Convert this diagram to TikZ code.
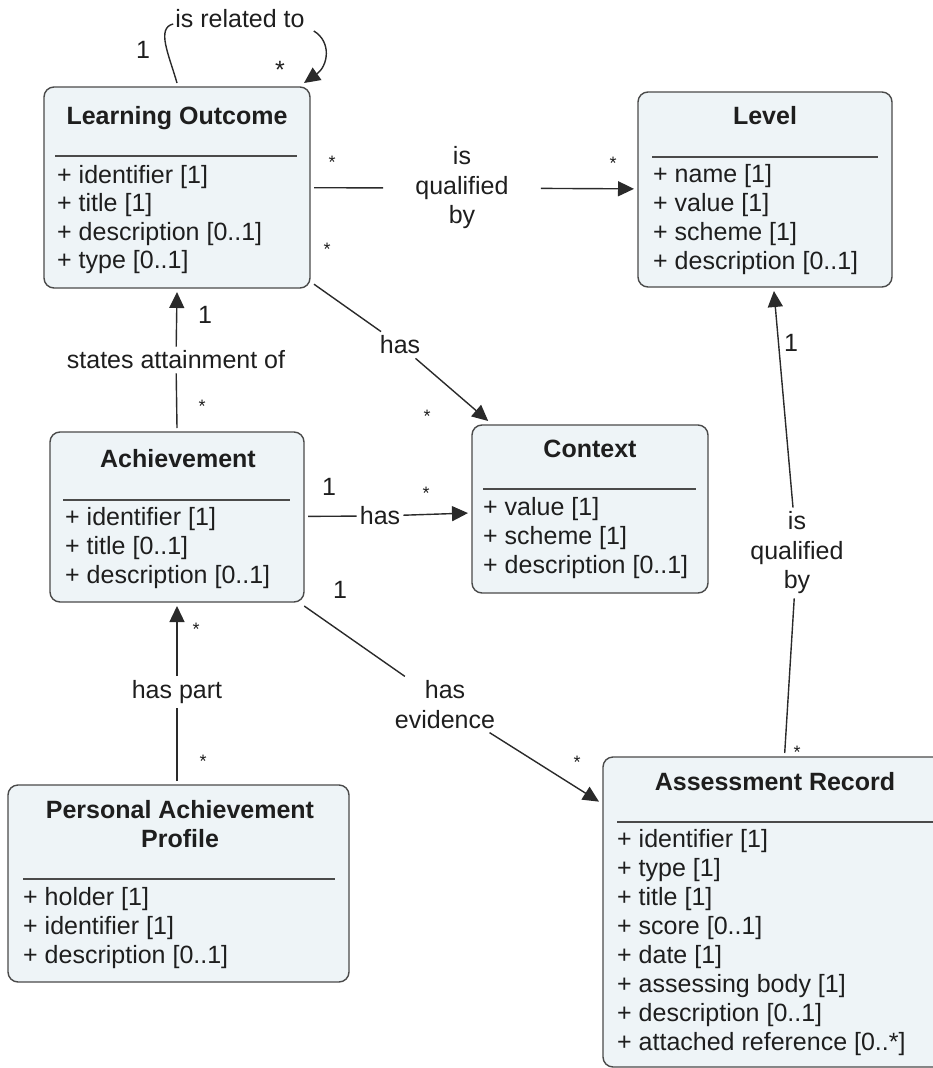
\documentclass[tikz,border=0pt]{standalone}
\usepackage{fontspec}
\setmainfont{Liberation Sans}
\usetikzlibrary{arrows.meta}
\definecolor{boxfill}{HTML}{EEF4F7}
\definecolor{boxline}{HTML}{4A4A4A}
\definecolor{ink}{HTML}{1E1E1E}
\definecolor{wire}{HTML}{2A2A2A}

\begin{document}
\begin{tikzpicture}[x=1pt,y=-1pt,
  umlbox/.style={draw=boxline, fill=boxfill, line width=1.4pt, rounded corners=10pt,
    inner sep=0pt, outer sep=4pt},
  boxtitle/.style={font=\fontsize{25}{28.5}\selectfont\bfseries, text=ink, inner sep=0pt,
    text height=18pt, text depth=6pt},
  boxtitletwo/.style={font=\fontsize{25}{28.5}\selectfont\bfseries, text=ink, inner sep=0pt,
    align=center},
  attr/.style={font=\fontsize{25}{29}\selectfont, text=ink, anchor=west, inner sep=0pt,
    text height=18pt, text depth=6pt},
  divider/.style={draw=boxline, line width=1.3pt},
  conn/.style={draw=wire, line width=1.4pt},
  arr/.style={conn, -{Triangle[length=16pt,width=15pt]}},
  lbl/.style={font=\fontsize{25}{29.5}\selectfont, text=ink, inner sep=4pt, align=center},
  mult/.style={font=\fontsize{25}{29}\selectfont, text=ink, inner sep=1pt},
  star/.style={font=\fontsize{18}{20}\selectfont, text=ink, inner sep=1pt}
]
\useasboundingbox (0,0) rectangle (933,1068);
\clip (0,0) rectangle (933,1068);

% ---------- classes ----------
% Learning Outcome
\node[umlbox, minimum width=266pt, minimum height=201pt] (LO) at (177,187.5) {};
\node[boxtitle] (LOt) at (177,118) {Learning Outcome};
\draw[divider] (55,156) -- (297,156);
\node[attr] (LOa1) at (57,177) {+ identifier [1]};
\node[attr] (LOa2) at (57,205.5) {+ title [1]};
\node[attr] (LOa3) at (57,234) {+ description [0..1]};
\node[attr] (LOa4) at (57,262.5) {+ type [0..1]};

% Level
\node[umlbox, minimum width=254pt, minimum height=195pt] (Lv) at (765,189.5) {};
\node[boxtitle] (Lvt) at (765,118) {Level};
\draw[divider] (652,157) -- (878,157);
\node[attr] (Lva1) at (653,176) {+ name [1]};
\node[attr] (Lva2) at (653,205) {+ value [1]};
\node[attr] (Lva3) at (653,234) {+ scheme [1]};
\node[attr] (Lva4) at (653,263) {+ description [0..1]};

% Context
\node[umlbox, minimum width=236pt, minimum height=168pt] (Ctx) at (590,509) {};
\node[boxtitle] (Ctxt) at (590,451) {Context};
\draw[divider] (483,489) -- (696,489);
\node[attr] (Ctxa1) at (483,509) {+ value [1]};
\node[attr] (Ctxa2) at (483,538) {+ scheme [1]};
\node[attr] (Ctxa3) at (483,567) {+ description [0..1]};

% Achievement
\node[umlbox, minimum width=254pt, minimum height=170pt] (Ach) at (177,517) {};
\node[boxtitle] (Acht) at (178,461) {Achievement};
\draw[divider] (63,500) -- (290,500);
\node[attr] (Acha1) at (65,519) {+ identifier [1]};
\node[attr] (Acha2) at (65,548) {+ title [0..1]};
\node[attr] (Acha3) at (65,577) {+ description [0..1]};

% Personal Achievement Profile
\node[umlbox, minimum width=341pt, minimum height=197pt] (PAP) at (178.5,883.5) {};
\node[boxtitletwo] (PAPt) at (180,824) {Personal Achievement\\Profile};
\draw[divider] (23,879) -- (335,879);
\node[attr] (PAPa1) at (23,899) {+ holder [1]};
\node[attr] (PAPa2) at (23,928) {+ identifier [1]};
\node[attr] (PAPa3) at (23,957) {+ description [0..1]};

% Assessment Record
\node[umlbox, minimum width=344pt, minimum height=310pt] (AR) at (775,912) {};
\node[boxtitle] (ARt) at (775,784) {Assessment Record};
\draw[divider] (617,822) -- (940,822);
\node[attr] (ARa1) at (617,841) {+ identifier [1]};
\node[attr] (ARa2) at (617,870) {+ type [1]};
\node[attr] (ARa3) at (617,899) {+ title [1]};
\node[attr] (ARa4) at (617,928) {+ score [0..1]};
\node[attr] (ARa5) at (617,957) {+ date [1]};
\node[attr] (ARa6) at (617,986) {+ assessing body [1]};
\node[attr] (ARa7) at (617,1015) {+ description [0..1]};
\node[attr] (ARa8) at (617,1044) {+ attached reference [0..*]};

% ---------- association labels ----------
\node[lbl, inner sep=2pt] (rel) at (240,19) {is related to};
\node[lbl, inner xsep=32pt] (q1) at (462,188) {is\\qualified\\by};
\node[lbl] (h1) at (400,345) {has};
\node[lbl] (sa) at (176,360) {states attainment of};
\node[lbl, inner xsep=3pt] (h2) at (380,516) {has};
\node[lbl] (he) at (445,704.5) {has\\evidence};
\node[lbl] (hp) at (177,692) {has part};
\node[lbl] (q2) at (797,553) {is\\qualified\\by};

% ---------- associations ----------
% self association on Learning Outcome
\draw[conn] (LO.north) .. controls (169,55) and (156,28) .. ([yshift=-5pt]rel.west);
\draw[arr] ([xshift=7pt,yshift=-12pt]rel.east) .. controls (332,42) and (328,66)
  .. ([xshift=-10pt]LO.north east);

\draw[conn] (LO) -- (q1);
\draw[arr] (q1) -- (Lv);

\draw[conn] (LO) -- (h1);
\draw[arr] (h1) -- (Ctx);

\draw[conn] (Ach.north) -- (sa);
\draw[arr] (sa) -- (LO.south);

\draw[conn] (Ach) -- (h2);
\draw[arr] (h2) -- (Ctx);

\draw[conn] (Ach) -- (he);
\draw[arr] (he) -- (AR);

\draw[conn] (hp |- PAP.north) -- (hp);
\draw[arr] (hp) -- (Ach.south);

\draw[conn] (AR) -- (q2);
\draw[arr] (q2) -- (Lv);

% ---------- multiplicities ----------
\node[mult] (m1) at (143,50) {1};
\node[mult] (m2) at (280,70) {*};
\node[star] (m3) at (332,162) {*};
\node[star] (m4) at (613,163) {*};
\node[star] (m5) at (327,249) {*};
\node[star] (m6) at (427,416) {*};
\node[mult] (m7) at (205,315) {1};
\node[star] (m8) at (202,406) {*};
\node[mult] (m9) at (329,487) {1};
\node[star] (m10) at (426,493) {*};
\node[mult] (m11) at (340,590) {1};
\node[star] (m12) at (577,762) {*};
\node[star] (m13) at (196,629) {*};
\node[star] (m14) at (203,761) {*};
\node[mult] (m15) at (791,343) {1};
\node[star] (m16) at (797,752) {*};
\end{tikzpicture}
\end{document}
